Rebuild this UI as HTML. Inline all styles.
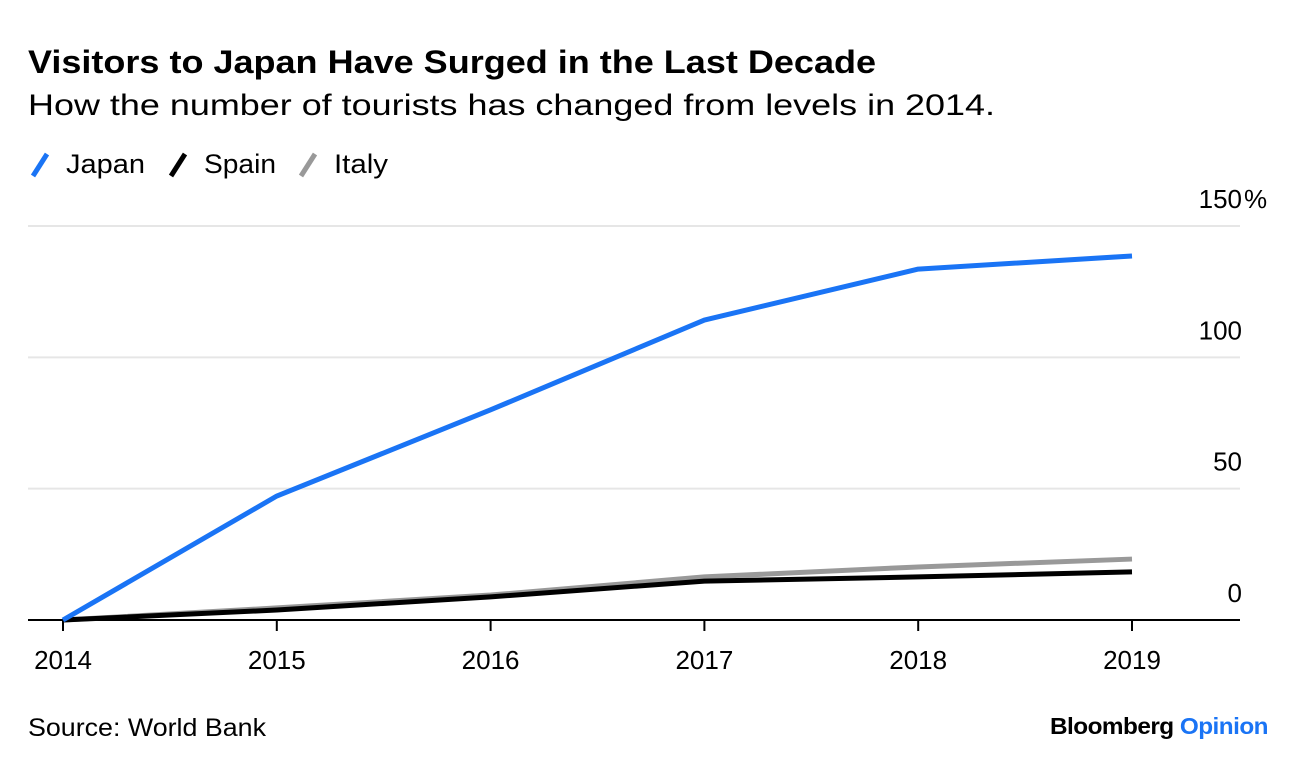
<!DOCTYPE html>
<html><head><meta charset="utf-8"><style>
body{margin:0;background:#fff;width:1296px;height:770px;overflow:hidden;font-family:"Liberation Sans",sans-serif;}
</style></head><body>
<svg width="1296" height="770" xmlns="http://www.w3.org/2000/svg" font-family="Liberation Sans, sans-serif">
<text x="28" y="73" font-size="32" font-weight="bold" fill="#000" textLength="848" lengthAdjust="spacingAndGlyphs">Visitors to Japan Have Surged in the Last Decade</text>
<text x="28" y="115" font-size="30" fill="#000" textLength="967" lengthAdjust="spacingAndGlyphs">How the number of tourists has changed from levels in 2014.</text>
<g font-size="27">
<g><line x1="33" y1="176" x2="47" y2="154" stroke="#1a74f5" stroke-width="5"/><text x="66" y="173" textLength="79" lengthAdjust="spacingAndGlyphs">Japan</text></g>
<g><line x1="171" y1="176" x2="185" y2="154" stroke="#000" stroke-width="5"/><text x="204" y="173" textLength="72" lengthAdjust="spacingAndGlyphs">Spain</text></g>
<g><line x1="301" y1="176" x2="315" y2="154" stroke="#999" stroke-width="5"/><text x="334" y="173" textLength="54" lengthAdjust="spacingAndGlyphs">Italy</text></g>
</g>
<g id="plot"></g>
<text x="28" y="736" font-size="25" textLength="238" lengthAdjust="spacingAndGlyphs">Source: World Bank</text>
<text x="1050" y="734" font-size="23" font-weight="bold" textLength="218" lengthAdjust="spacingAndGlyphs" letter-spacing="-0.5"><tspan fill="#000">Bloomberg </tspan><tspan fill="#1a74f5">Opinion</tspan></text>
</svg>
<script>
const years=["2014","2015","2016","2017","2018","2019"];
const japan=[0,47.2,80,114.2,133.6,138.6];
const spain=[0,3.8,8.8,14.8,16.4,18.3];
const italy=[0,4.6,9.5,16.4,20.2,23.2];
const yTicks=[0,50,100,150];
const yTickLabels=["0","50","100","150"];
const NS="http://www.w3.org/2000/svg";
const g=document.getElementById('plot');
const x=i=>63+i*(1132-63)/(years.length-1);
const y=v=>620-v*(620-226)/150;
function el(t,a){const e=document.createElementNS(NS,t);for(const k in a)e.setAttribute(k,a[k]);g.appendChild(e);return e;}
yTicks.forEach((v,i)=>{
 if(v!==0){const l=el('line',{x1:28,x2:1240,y1:y(v),y2:y(v),stroke:'#e6e6e6','stroke-width':2});
 
 }
 const t=el('text',{x:1242,y:y(v)-18,'text-anchor':'end','font-size':26});
 t.textContent=yTickLabels[i];
 
 
 if(i===yTicks.length-1){
  const pc=el('text',{x:1244,y:y(v)-18,'font-size':26});
  pc.textContent='%';
  
  
 }
});
years.forEach((yr,i)=>{
 const tk=el('line',{x1:x(i),x2:x(i),y1:620,y2:631,stroke:'#000','stroke-width':2});
 
 
 const t=el('text',{x:x(i),y:669,'text-anchor':'middle','font-size':26});
 t.textContent=yr;
 
 
});
const ax=el('line',{x1:28,x2:1240,y1:620,y2:620,stroke:'#000','stroke-width':2});


[[italy,'#999','italy'],[spain,'#000','spain'],[japan,'#1a74f5','japan']].forEach(([d,c,n])=>{
 const p=el('polyline',{points:d.map((v,i)=>x(i)+','+y(v)).join(' '),fill:'none',stroke:c,'stroke-width':5,'stroke-linejoin':'round'});
 
 
});
</script>
</body></html>
